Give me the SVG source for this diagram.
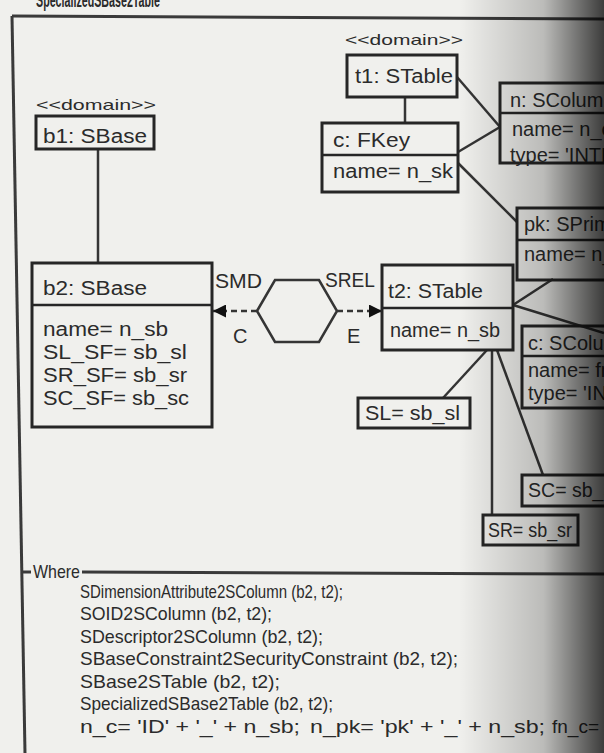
<svg xmlns="http://www.w3.org/2000/svg" width="604" height="753" viewBox="0 0 604 753">
<defs>
<style>
.t{font-family:"Liberation Sans",Arial,sans-serif;font-size:20px;fill:#2b2b2b}
.s{font-family:"Liberation Sans",Arial,sans-serif;font-size:15px;fill:#2b2b2b}
.w{font-family:"Liberation Sans",Arial,sans-serif;font-size:19px;fill:#2b2b2b}
.box{fill:none;stroke:#262626;stroke-width:3}
.div{stroke:#262626;stroke-width:2.5}
.ln{stroke:#353535;stroke-width:2.5;fill:none}
.fr{stroke:#3a3a3a;stroke-width:3;fill:none}
</style>
<marker id="ah" viewBox="0 0 10 10" refX="10" refY="5" markerWidth="17" markerHeight="13" markerUnits="userSpaceOnUse" orient="auto">
<path d="M0,0 L10,5 L0,10 z" fill="#111"/>
</marker>
<linearGradient id="shade" x1="0" y1="0" x2="604" y2="0" gradientUnits="userSpaceOnUse">
<stop offset="0.76" stop-color="#000" stop-opacity="0"/>
<stop offset="0.9" stop-color="#000" stop-opacity="0.22"/>
<stop offset="1" stop-color="#000" stop-opacity="0.75"/>
</linearGradient>
</defs>
<rect x="0" y="0" width="604" height="753" fill="#f0f0ed"/>

<g id="frame">
<text class="t" x="36" y="7" textLength="124" lengthAdjust="spacingAndGlyphs" font-weight="bold">SpecializedSBase2Table</text>
<line class="fr" x1="12" y1="16" x2="604" y2="19"/>
<line class="fr" x1="12" y1="16" x2="25" y2="753"/>
<line class="fr" x1="22" y1="572" x2="31" y2="572"/>
<line class="fr" x1="82" y1="572" x2="604" y2="574"/>
<text class="w" x="33" y="578" textLength="47" lengthAdjust="spacingAndGlyphs">Where</text>
</g>

<g id="connectors">
<line class="ln" x1="98" y1="149" x2="98" y2="263"/>
<line class="ln" x1="405" y1="97" x2="405" y2="123"/>
<line class="ln" x1="457" y1="77" x2="500" y2="127"/>
<line class="ln" x1="458" y1="152" x2="500" y2="127"/>
<line class="ln" x1="458" y1="163" x2="517" y2="222"/>
<line class="ln" x1="513" y1="305" x2="553" y2="279"/>
<line class="ln" x1="513" y1="305" x2="604" y2="333"/>
<line class="ln" x1="487" y1="350" x2="443" y2="398"/>
<line class="ln" x1="492" y1="350" x2="492" y2="515"/>
<line class="ln" x1="497" y1="350" x2="543" y2="475"/>
<line class="ln" x1="257" y1="311" x2="213" y2="311" stroke-dasharray="6,4" marker-end="url(#ah)"/>
<line class="ln" x1="337" y1="311" x2="382" y2="311" stroke-dasharray="6,4" marker-end="url(#ah)"/>
</g>

<g id="rel">
<polygon class="ln" points="257,311 275,280 319,280 337,311 319,342 275,342"/>
<text class="t" x="215" y="288" font-size="18" textLength="47" lengthAdjust="spacingAndGlyphs">SMD</text>
<text class="t" x="233" y="343" font-size="18">C</text>
<text class="t" x="325" y="287" font-size="18" textLength="50" lengthAdjust="spacingAndGlyphs">SREL</text>
<text class="t" x="347" y="343" font-size="18">E</text>
</g>

<g id="b1">
<text class="s" x="36" y="110" textLength="120" lengthAdjust="spacingAndGlyphs">&lt;&lt;domain&gt;&gt;</text>
<rect class="box" x="36" y="116" width="118" height="33"/>
<text class="t" x="43" y="143" textLength="104" lengthAdjust="spacingAndGlyphs">b1: SBase</text>
</g>

<g id="b2">
<rect class="box" x="32" y="263" width="180" height="164"/>
<line class="div" x1="32" y1="305" x2="212" y2="305"/>
<text class="t" x="43" y="295" textLength="104" lengthAdjust="spacingAndGlyphs">b2: SBase</text>
<text class="t" x="43" y="336" textLength="125" lengthAdjust="spacingAndGlyphs">name= n_sb</text>
<text class="t" x="43" y="359" textLength="144" lengthAdjust="spacingAndGlyphs">SL_SF= sb_sl</text>
<text class="t" x="43" y="382" textLength="144" lengthAdjust="spacingAndGlyphs">SR_SF= sb_sr</text>
<text class="t" x="43" y="405" textLength="146" lengthAdjust="spacingAndGlyphs">SC_SF= sb_sc</text>
</g>

<g id="t1">
<text class="s" x="345" y="45" textLength="118" lengthAdjust="spacingAndGlyphs">&lt;&lt;domain&gt;&gt;</text>
<rect class="box" x="347" y="55" width="110" height="42"/>
<text class="t" x="355" y="83" textLength="98" lengthAdjust="spacingAndGlyphs">t1: STable</text>
</g>

<g id="fkey">
<rect class="box" x="322" y="123" width="136" height="69"/>
<line class="div" x1="322" y1="155" x2="458" y2="155"/>
<text class="t" x="333" y="147" textLength="77" lengthAdjust="spacingAndGlyphs">c: FKey</text>
<text class="t" x="333" y="178" textLength="120" lengthAdjust="spacingAndGlyphs">name= n_sk</text>
</g>

<g id="col1">
<rect class="box" x="500" y="83" width="110" height="80"/>
<line class="div" x1="500" y1="113" x2="604" y2="113"/>
<text class="t" x="510" y="107">n: SColumn</text>
<text class="t" x="512" y="136">name= n_c</text>
<text class="t" x="510" y="162">type= 'INTEGER'</text>
</g>

<g id="pk">
<rect class="box" x="517" y="208" width="95" height="72"/>
<line class="div" x1="517" y1="240" x2="604" y2="240"/>
<text class="t" x="524" y="231">pk: SPrimaryKey</text>
<text class="t" x="524" y="261">name= n_pk</text>
</g>

<g id="t2">
<rect class="box" x="382" y="265" width="131" height="85"/>
<line class="div" x1="382" y1="308" x2="513" y2="308"/>
<text class="t" x="388" y="298" textLength="95" lengthAdjust="spacingAndGlyphs">t2: STable</text>
<text class="t" x="390" y="337" textLength="110" lengthAdjust="spacingAndGlyphs">name= n_sb</text>
</g>

<g id="col2">
<rect class="box" x="522" y="326" width="90" height="82"/>
<line class="div" x1="522" y1="356" x2="604" y2="356"/>
<text class="t" x="528" y="350">c: SColumn</text>
<text class="t" x="528" y="377">name= fn_c</text>
<text class="t" x="528" y="400">type= 'INTEGER'</text>
</g>

<g id="sl">
<rect class="box" x="358" y="398" width="112" height="30"/>
<text class="t" x="365" y="420" textLength="95" lengthAdjust="spacingAndGlyphs">SL= sb_sl</text>
</g>

<g id="sc">
<rect class="box" x="522" y="475" width="90" height="31"/>
<text class="t" x="528" y="497" textLength="95" lengthAdjust="spacingAndGlyphs">SC= sb_sc</text>
</g>

<g id="sr">
<rect class="box" x="483" y="515" width="95" height="30"/>
<text class="t" x="488" y="537" textLength="84" lengthAdjust="spacingAndGlyphs">SR= sb_sr</text>
</g>

<g id="where">
<text class="w" x="80" y="598" textLength="263" lengthAdjust="spacingAndGlyphs">SDimensionAttribute2SColumn (b2, t2);</text>
<text class="w" x="80" y="620" textLength="192" lengthAdjust="spacingAndGlyphs">SOID2SColumn (b2, t2);</text>
<text class="w" x="80" y="643" textLength="243" lengthAdjust="spacingAndGlyphs">SDescriptor2SColumn (b2, t2);</text>
<text class="w" x="80" y="665" textLength="378" lengthAdjust="spacingAndGlyphs">SBaseConstraint2SecurityConstraint (b2, t2);</text>
<text class="w" x="80" y="688" textLength="200" lengthAdjust="spacingAndGlyphs">SBase2STable (b2, t2);</text>
<text class="w" x="80" y="710" textLength="253" lengthAdjust="spacingAndGlyphs">SpecializedSBase2Table (b2, t2);</text>
<text class="w" y="733"><tspan x="80" textLength="220" lengthAdjust="spacingAndGlyphs">n_c= 'ID' + '_' + n_sb;</tspan><tspan x="310" textLength="235" lengthAdjust="spacingAndGlyphs">n_pk= 'pk' + '_' + n_sb;</tspan><tspan x="552">fn_c= 'FD' + '_' + n_sb;</tspan></text>
</g>

<rect x="0" y="0" width="604" height="753" fill="url(#shade)" pointer-events="none"/>
</svg>
